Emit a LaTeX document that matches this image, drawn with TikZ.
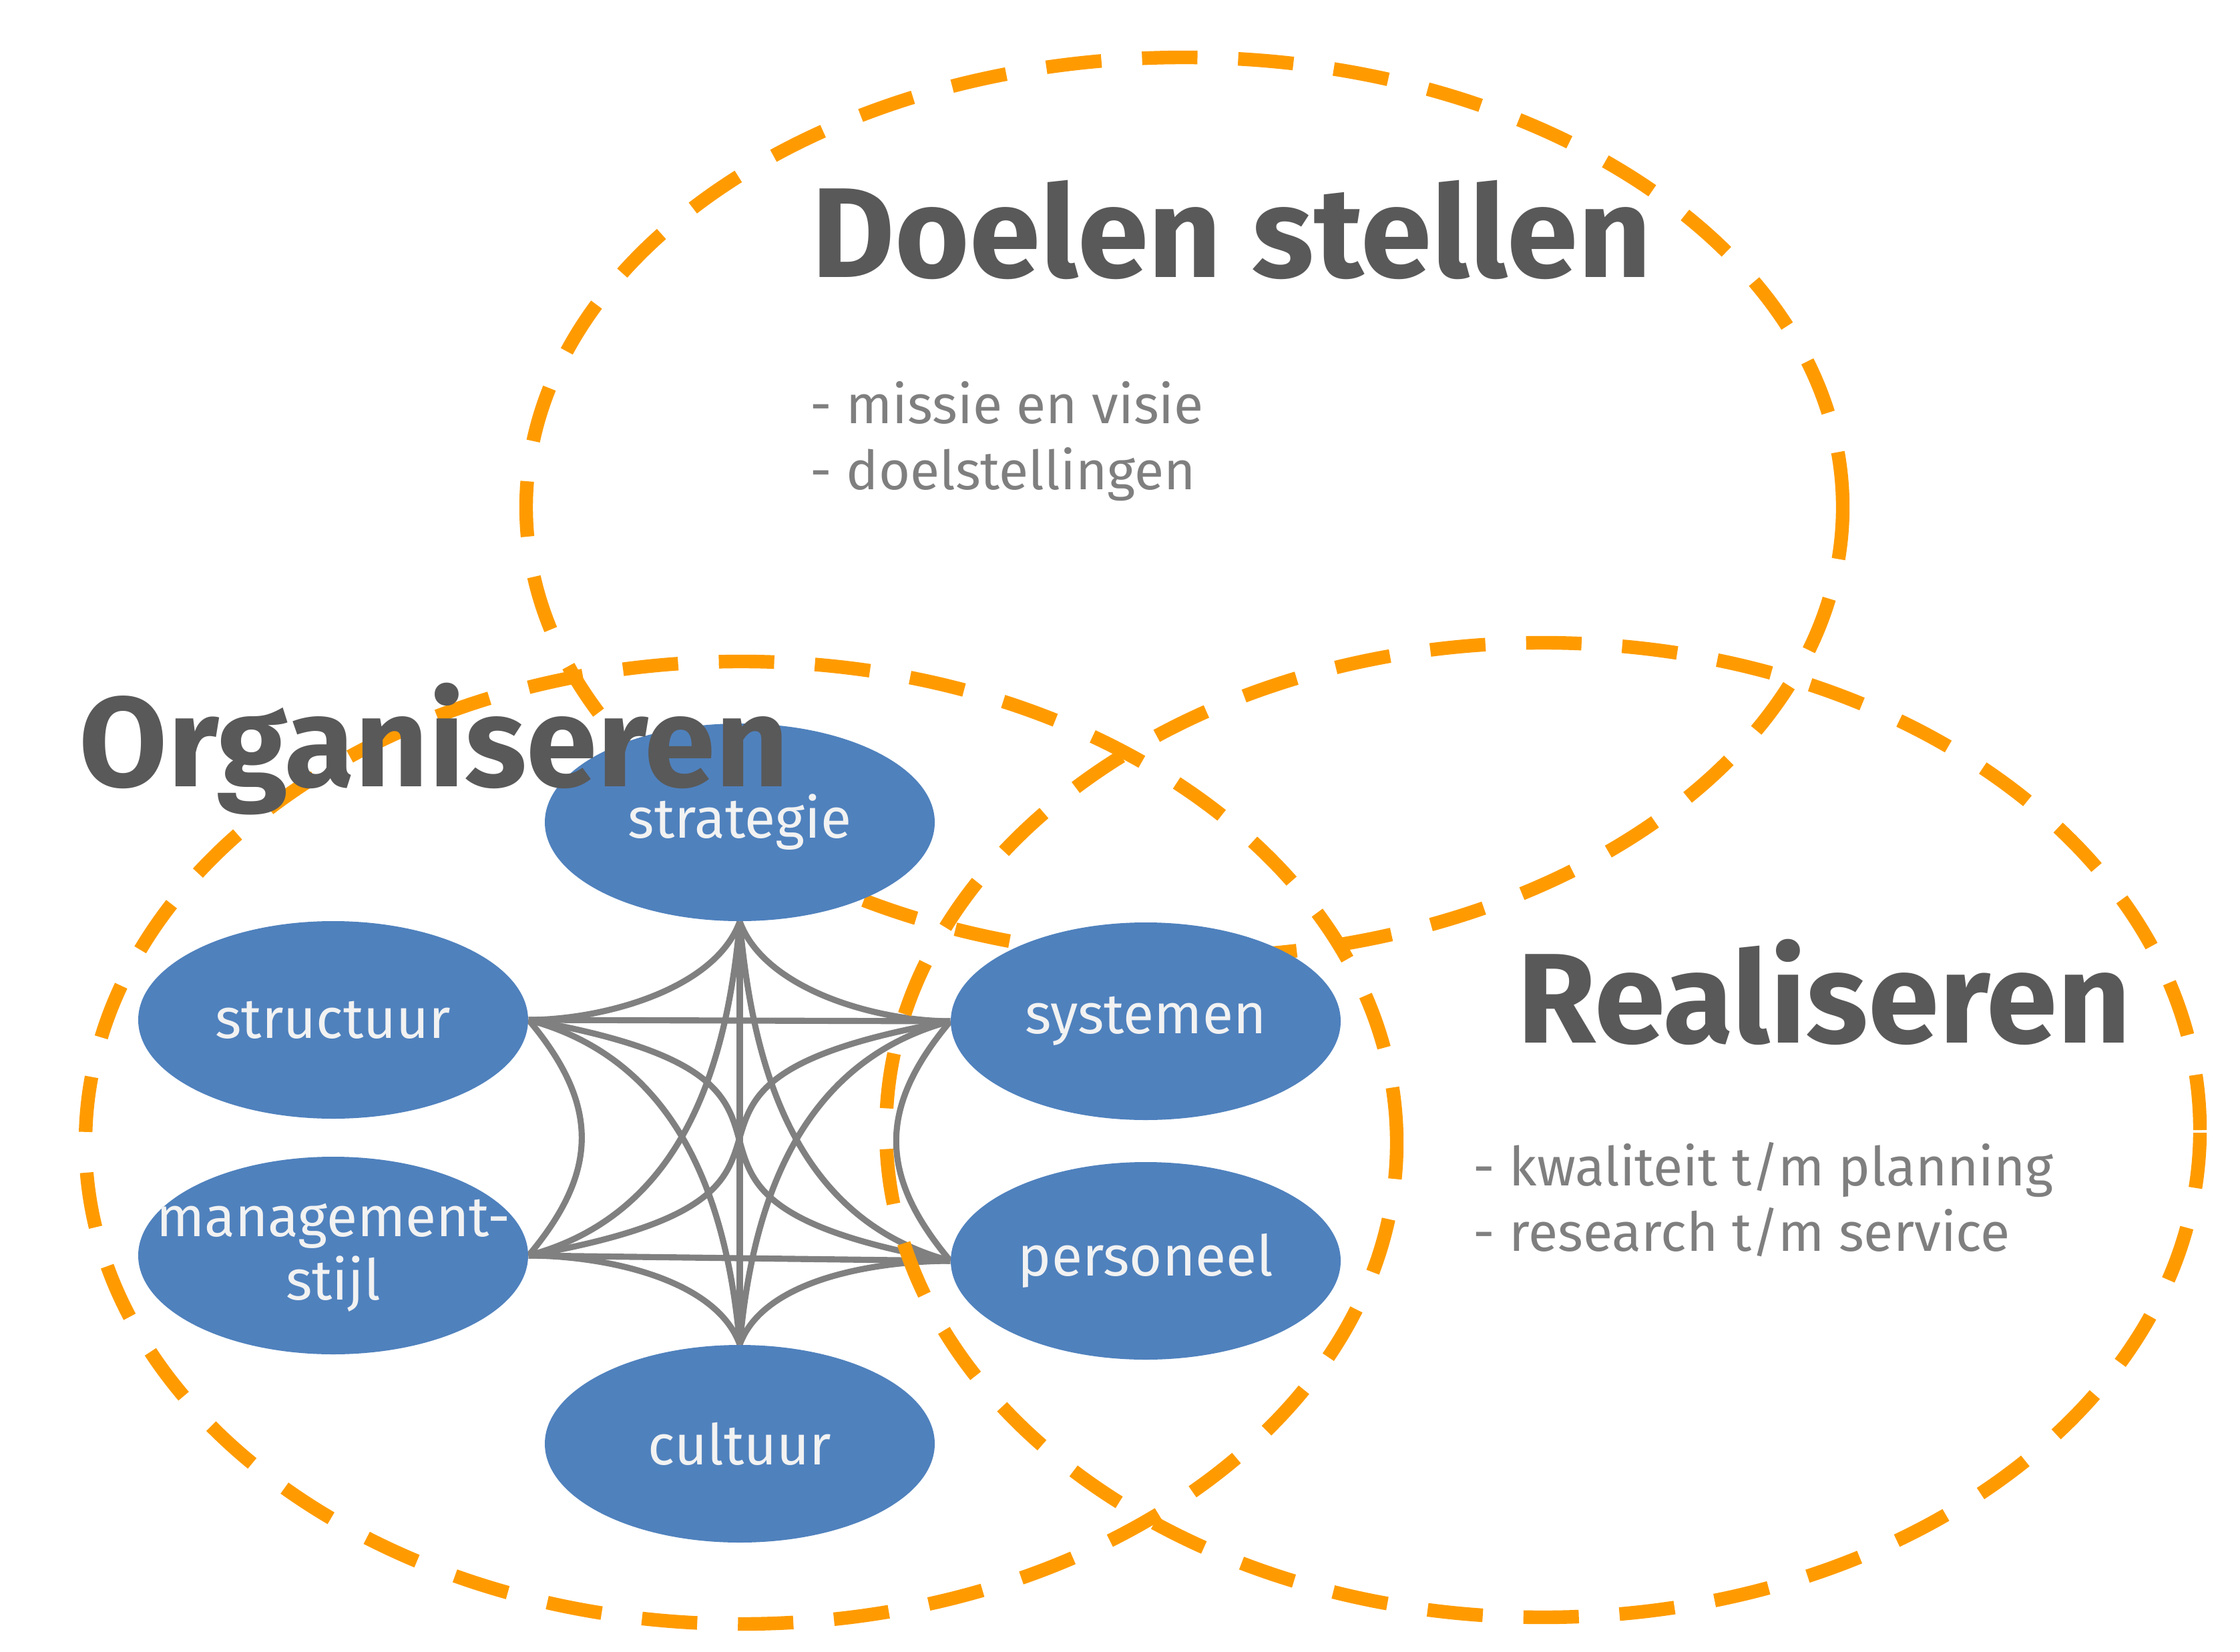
\documentclass[tikz,border=0pt]{standalone}
\usepackage{fontspec}
\setmainfont{Fira Sans}
\usetikzlibrary{shapes.geometric,backgrounds}
\definecolor{zoneorange}{HTML}{FF9B00}
\definecolor{itemblue}{HTML}{4F81BD}
\definecolor{titlegray}{HTML}{595959}
\definecolor{notegray}{HTML}{7F7F7F}
\definecolor{linkgray}{HTML}{808080}
\definecolor{itemtext}{HTML}{F2F2F2}

\begin{document}
\begin{tikzpicture}[
  zone/.style={draw=zoneorange, line width=5.8pt, dash pattern=on 0.83cm off 0.61cm},
  item/.style={ellipse, fill=itemblue, minimum width=5.84cm, minimum height=2.96cm, inner sep=-1cm,
    text=itemtext, align=center, font=\fontsize{24}{27}\selectfont},
  link/.style={draw=linkgray, line width=2.6pt},
  title/.style={anchor=base west, inner sep=0pt, text=titlegray, font=\bfseries\fontsize{54.5}{60}\selectfont},
  note/.style={anchor=base west, inner sep=0pt, text=notegray, font=\fontsize{23}{28}\selectfont}
]
  \useasboundingbox (0,0) rectangle (33.55,-24.75);

  % the three zones
  \draw[zone] (17.74,-7.60) ellipse [x radius=9.86, y radius=6.74];
  \draw[zone] (11.10,-17.12) ellipse [x radius=9.82, y radius=7.21];
  \draw[zone] (23.11,-16.93) ellipse [x radius=9.84, y radius=7.30];

  % elements
  \node[item] (strategie) at (11.08,-12.32) {strategie};
  \node[item] (structuur) at (4.99,-15.28) {structuur};
  \node[item] (stijl) at (4.99,-18.81) {management-\\stijl};
  \node[item] (systemen) at (17.16,-15.30) {systemen};
  \node[item] (personeel) at (17.16,-18.89) {personeel};
  \node[item] (cultuur) at (11.08,-21.63) {cultuur};

  % every element linked to every other one
  \begin{scope}[on background layer]
    \draw[link] (strategie.south) -- (cultuur.north);
    \draw[link] (structuur.east) -- (systemen.west);
    \draw[link] (stijl.east) -- (personeel.west);
    \draw[link] (structuur.east) to[out=-50, in=50, looseness=1.2] (stijl.east);
    \draw[link] (systemen.west) to[out=-130, in=130, looseness=1.2] (personeel.west);
    \draw[link] (strategie.south) to[out=-110, in=0, looseness=0.8] (structuur.east);
    \draw[link] (strategie.south) to[out=-70, in=180, looseness=0.8] (systemen.west);
    \draw[link] (strategie.south) to[out=-95, in=15] (stijl.east);
    \draw[link] (strategie.south) to[out=-85, in=165] (personeel.west);
    \draw[link] (cultuur.north) to[out=110, in=0, looseness=0.8] (stijl.east);
    \draw[link] (cultuur.north) to[out=70, in=180, looseness=0.8] (personeel.west);
    \draw[link] (structuur.east) to[out=-15, in=95] (cultuur.north);
    \draw[link] (systemen.west) to[out=195, in=85] (cultuur.north);
    \draw[link] (structuur.east) to[out=-10, in=170, looseness=2] (personeel.west);
    \draw[link] (stijl.east) to[out=10, in=190, looseness=2] (systemen.west);
  \end{scope}

  % titles and notes
  \node[title] (doelen) at (12.15,-4.16) {Doelen stellen};
  \node[note] (missie) at (12.13,-6.35) {- missie en visie};
  \node[note] (stellingen) at (12.13,-7.34) {- doelstellingen};
  \node[title] (organiseren) at (1.18,-11.78) {Organiseren};
  \node[title] (realiseren) at (22.72,-15.62) {Realiseren};
  \node[note] (kwaliteit) at (22.06,-17.76) {- kwaliteit t/m planning};
  \node[note] (research) at (22.06,-18.74) {- research t/m service};
\end{tikzpicture}
\end{document}
